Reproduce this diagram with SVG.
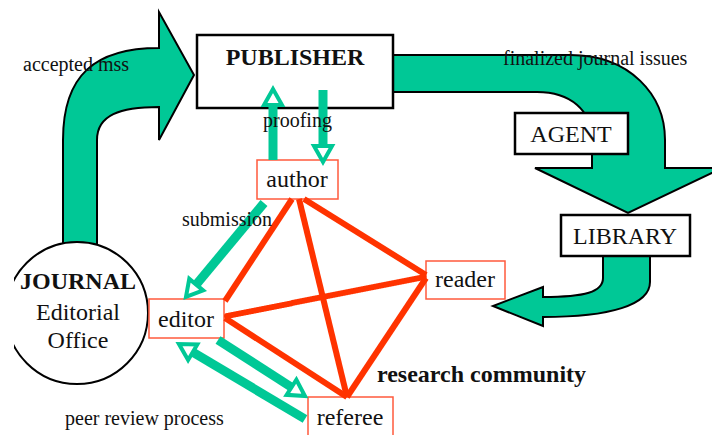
<svg xmlns="http://www.w3.org/2000/svg" width="712" height="435" viewBox="0 0 712 435">
<style>
text { font-family: "Liberation Serif", "Times New Roman", serif; fill: #111; }
.lbl { font-size: 20px; }
.node { font-size: 24px; text-anchor: middle; }
.bold { font-weight: bold; }
.big { fill: #00c896; stroke: #000; stroke-width: 2; stroke-linejoin: miter; }
.bbox { fill: #fff; stroke: #000; stroke-width: 2.5; }
.rbox { fill: #fff; stroke: #ff5a3c; stroke-width: 1.5; }
.red { stroke: #ff3300; stroke-width: 6; fill: none; }
.dot { stroke: #ff3300; stroke-width: 6; fill: none; stroke-linecap: round; stroke-dasharray: 0 2.6; }
.g { stroke: #00c896; stroke-width: 9; fill: none; marker-end: url(#oh); }
</style>
<defs>
<marker id="oh" markerUnits="userSpaceOnUse" viewBox="-4 -13 30 26" markerWidth="30" markerHeight="26" refX="0" refY="0" orient="auto" style="overflow:visible">
<path d="M0,-9 L16,0 L0,9 Z" fill="#fff" stroke="#00c896" stroke-width="4"/>
</marker>
<clipPath id="cc"><rect x="14" y="0" width="200" height="435"/></clipPath>
</defs>

<g id="flows">
<path class="big" d="M63,250 L63,140 C63,75 95,48 159,48 L159,12 L194,75 L159,140 L159,107 C120,107 97,115 97,140 L97,250 Z"/>
<path class="big" d="M393,55 L570,55 C630,55 665,95 665,140 L665,168 L722,168 L628,213 L535,168 L592,168 L592,140 C592,110 570,92 537,92 L393,92 Z"/>
<path class="big" d="M603,256 L603,278 C603,292 585,297 543,297 L543,287 L493,306 L543,326 L543,317 C610,317 650,305 650,282 L650,256 Z"/>
</g>

<g id="journal">
<circle cx="77" cy="313" r="71" fill="#fff" stroke="#000" stroke-width="2" clip-path="url(#cc)"/>
<text class="node bold" x="78" y="289">JOURNAL</text>
<text class="node" x="78" y="320">Editorial</text>
<text class="node" x="78" y="348">Office</text>
</g>
<g id="publisher">
<rect class="bbox" x="197" y="35" width="196" height="73"/>
<text class="node bold" x="295" y="65">PUBLISHER</text>
</g>
<g id="agent">
<rect class="bbox" x="515" y="113" width="113" height="41"/>
<text class="node" x="571" y="142">AGENT</text>
</g>
<g id="library">
<rect class="bbox" x="561" y="215" width="129" height="41"/>
<text class="node" x="625" y="244">LIBRARY</text>
</g>
<g id="author">
<rect class="rbox" x="257" y="160" width="81" height="39"/>
<text class="node" x="297" y="187">author</text>
</g>
<g id="editor">
<rect class="rbox" x="149" y="299" width="75" height="39"/>
<text class="node" x="186" y="327">editor</text>
</g>
<g id="reader">
<rect class="rbox" x="426" y="261" width="79" height="38"/>
<text class="node" x="465" y="287">reader</text>
</g>
<g id="referee">
<rect class="rbox" x="308" y="397" width="85" height="50"/>
<text class="node" x="350" y="425">referee</text>
</g>

<g id="connectors">
<line class="red" x1="292" y1="199" x2="225" y2="301"/>
<line class="red" x1="299" y1="199" x2="347" y2="397"/>
<line class="red" x1="304" y1="199" x2="426" y2="275"/>
<line class="dot" x1="227" y1="316" x2="424" y2="277"/>
<line class="red" x1="225" y1="318" x2="347" y2="397"/>
<line class="red" x1="426" y1="278" x2="347" y2="397"/>
<line class="g" x1="273" y1="160" x2="273" y2="105"/>
<line class="g" x1="323" y1="90" x2="323" y2="146"/>
<line class="g" x1="264" y1="203" x2="196.2" y2="284.6"/>
<line class="g" x1="218" y1="340" x2="291.5" y2="387.3"/>
<line class="g" x1="305" y1="419" x2="192.7" y2="352.2"/>
</g>

<g id="labels">
<text class="lbl" x="23" y="71">accepted mss</text>
<text class="lbl" x="503" y="65">finalized journal issues</text>
<text class="lbl" x="263" y="127">proofing</text>
<text class="lbl" x="182" y="226">submission</text>
<text class="lbl" x="65" y="425">peer review process</text>
<text class="node bold" x="377" y="382" style="text-anchor:start">research community</text>
</g>
</svg>
